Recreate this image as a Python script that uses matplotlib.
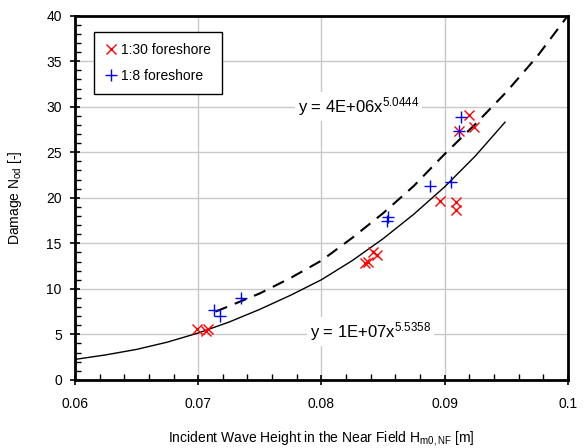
import numpy as np
import matplotlib
matplotlib.use('Agg')
import matplotlib.pyplot as plt

plt.rcParams['font.family'] = ['Liberation Sans', 'DejaVu Sans']
plt.rcParams['mathtext.fontset'] = 'custom'
plt.rcParams['mathtext.rm'] = 'Liberation Sans'
plt.rcParams['mathtext.it'] = 'Liberation Sans'
plt.rcParams['font.size'] = 10

# 1:30 foreshore measurements
h30 = [0.0699, 0.0706, 0.0708, 0.0835, 0.0838, 0.0842, 0.0845,
       0.0896, 0.0909, 0.0909, 0.0912, 0.0920, 0.0924]
n30 = [5.6, 5.4, 5.6, 12.8, 13.0, 14.0, 13.7,
       19.7, 19.5, 18.7, 27.3, 29.1, 27.8]

# 1:8 foreshore measurements
h8 = [0.0713, 0.0718, 0.0735, 0.0854, 0.0853, 0.0888, 0.0905, 0.0912, 0.0913]
n8 = [7.7, 7.0, 9.0, 17.9, 17.4, 21.3, 21.7, 27.3, 28.9]

# trend lines
fit30_x = [0.06, 0.0625, 0.065, 0.0675, 0.07, 0.0725, 0.075, 0.0775, 0.08,
           0.0825, 0.085, 0.0875, 0.09, 0.0925, 0.0949]
fit30_y = [2.25, 2.75, 3.35, 4.15, 5.15, 6.35, 7.75, 9.3, 11.0,
           13.1, 15.5, 18.2, 21.2, 24.6, 28.3]
fit8_x = [0.0714, 0.0725, 0.075, 0.0775, 0.08, 0.0825, 0.085, 0.0875,
          0.09, 0.0925, 0.095, 0.0975, 0.1]
fit8_y = [7.5, 8.1, 9.5, 11.2, 13.1, 15.6, 18.3, 21.3,
          24.8, 28.1, 31.6, 35.5, 40.0]

fig = plt.figure(figsize=(5.86, 4.48), dpi=100)
ax = fig.add_axes([0.128, 0.152, 0.841, 0.813])

ax.plot(fit30_x, fit30_y, color='black', lw=1.0, zorder=3)
ax.plot(fit8_x, fit8_y, color='black', lw=1.5, dashes=(6, 4), zorder=3)

ax.plot(h30, n30, linestyle='none', marker='x', color='red', ms=7, mew=1.0,
        label='1:30 foreshore', zorder=4)
ax.plot(h8, n8, linestyle='none', marker='+', color='blue', ms=8, mew=1.0,
        label='1:8 foreshore', zorder=4)

ax.text(0.0830, 30.0, 'y = 4E+06x$^{5.0444}$', ha='center', va='center',
        fontsize=12, bbox=dict(facecolor='white', edgecolor='none', pad=2), zorder=2)
ax.text(0.0840, 5.3, 'y = 1E+07x$^{5.5358}$', ha='center', va='center',
        fontsize=12, bbox=dict(facecolor='white', edgecolor='none', pad=2), zorder=2)

ax.set_xlim(0.06, 0.1)
ax.set_ylim(0, 40)
ax.set_xticks([0.06, 0.07, 0.08, 0.09, 0.1])
ax.set_xticklabels(['0.06', '0.07', '0.08', '0.09', '0.1'])
ax.set_yticks(np.arange(0, 41, 5))
ax.set_xticks(np.arange(0.06, 0.1001, 0.002), minor=True)
ax.set_yticks(np.arange(0, 41, 1), minor=True)
ax.tick_params(which='major', direction='inout', length=7, width=1.2, pad=6)
ax.tick_params(axis='x', which='major', pad=9)
ax.tick_params(which='minor', direction='in', length=4, width=1.0)
ax.grid(True, which='major', color='#c8c8c8', lw=1.0, zorder=0)
ax.set_axisbelow(True)
for s in ax.spines.values():
    s.set_linewidth(2)

ax.set_xlabel('Incident Wave Height in the Near Field H$_{\\mathrm{m0,NF}}$ [m]', labelpad=13)
ax.set_ylabel('Damage N$_{\\mathrm{od}}$ [-]', labelpad=16)

leg = ax.legend(loc='upper left', bbox_to_anchor=(0.025, 0.975), fancybox=False,
                edgecolor='black', framealpha=1, handlelength=0.8, handletextpad=0.3,
                borderpad=0.8, labelspacing=0.9)
leg.get_frame().set_linewidth(1.0)

fig.savefig('out.png', dpi=100)
